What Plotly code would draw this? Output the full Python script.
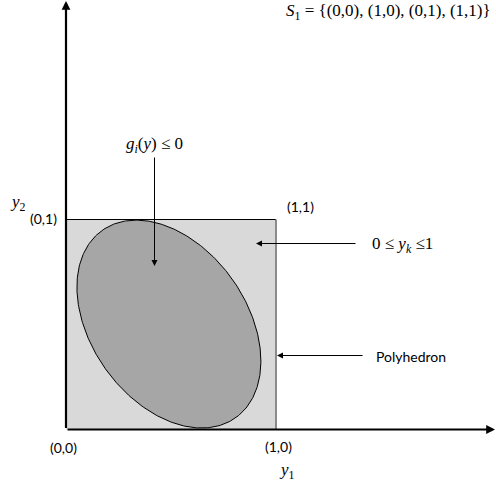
import numpy as np
import plotly.graph_objects as go

# ---- data ----
square_x = [0, 1, 1, 0, 0]
square_y = [0, 0, 1, 1, 0]
corner_labels = ["(0,0)", "(1,0)", "(0,1)", "(1,1)"]
corner_x = [0, 1, 0, 1]
corner_y = [0, 0, 1, 1]
ellipse_center = [0.49, 0.502]
ellipse_sd = [0.438, 0.495]
ellipse_rho = -0.356

W, H = 496, 486
PX = 210.0            # pixels per unit
X0PX, Y0PX = 66.0, 429.5
xr = [-X0PX / PX, (W - X0PX) / PX]
yr = [-(H - Y0PX) / PX, Y0PX / PX]

def dx(px):
    return (px - X0PX) / PX

def dy(py):
    return (Y0PX - py) / PX

t = np.linspace(0, 2 * np.pi, 361)
cx, cy = ellipse_center
sx, sy = ellipse_sd
ex = cx + sx * np.cos(t)
ey = cy + sy * (ellipse_rho * np.cos(t) + np.sqrt(1 - ellipse_rho ** 2) * np.sin(t))

fig = go.Figure()
fig.add_trace(go.Scatter(x=square_x, y=square_y, mode="lines", fill="toself",
                         fillcolor="#d9d9d9", line=dict(width=0), hoverinfo="skip"))
fig.add_trace(go.Scatter(x=ex, y=ey, mode="lines", fill="toself",
                         fillcolor="#a6a6a6", line=dict(color="black", width=1), hoverinfo="skip"))
# square edges
fig.add_trace(go.Scatter(x=[0, 1], y=[1, 1], mode="lines", line=dict(color="black", width=1.2), hoverinfo="skip"))
fig.add_trace(go.Scatter(x=[1, 1], y=[0, 1], mode="lines", line=dict(color="#808080", width=1.8), hoverinfo="skip"))

anns = []
# axes with arrows
anns.append(dict(x=dx(495), y=0, ax=0, ay=0, xref="x", yref="y", axref="x", ayref="y",
                 showarrow=True, arrowhead=2, arrowsize=0.8, arrowwidth=2.2, arrowcolor="black", text=""))
anns.append(dict(x=0, y=dy(1), ax=0, ay=0, xref="x", yref="y", axref="x", ayref="y",
                 showarrow=True, arrowhead=2, arrowsize=0.8, arrowwidth=2.2, arrowcolor="black", text=""))
# pointer arrows
anns.append(dict(x=dx(154.5), y=dy(266), ax=dx(154.5), ay=dy(156), xref="x", yref="y", axref="x", ayref="y",
                 showarrow=True, arrowhead=2, arrowsize=1.2, arrowwidth=1, arrowcolor="black", text=""))
anns.append(dict(x=dx(256), y=dy(243.5), ax=dx(357), ay=dy(243.5), xref="x", yref="y", axref="x", ayref="y",
                 showarrow=True, arrowhead=2, arrowsize=1.2, arrowwidth=1, arrowcolor="black", text=""))
anns.append(dict(x=dx(277), y=dy(355.5), ax=dx(364), ay=dy(355.5), xref="x", yref="y", axref="x", ayref="y",
                 showarrow=True, arrowhead=2, arrowsize=1.2, arrowwidth=1, arrowcolor="black", text=""))

serif = dict(family="Liberation Serif", size=17, color="black")
sans = dict(family="Lato", size=14, color="black")

def txt(x, y, s, font):
    anns.append(dict(x=x, y=y, xref="x", yref="y", text=s, showarrow=False,
                     font=font, xanchor="center", yanchor="middle"))

txt(dx(388), dy(12), "<i>S</i><sub>1</sub> = {(0,0), (1,0), (0,1), (1,1)}", serif)
txt(dx(154), dy(145), "<i>g<sub>i</sub></i>(<i>y</i>) ≤ 0", serif)
txt(dx(18), dy(203), "<i>y</i><sub>2</sub>", serif)
txt(dx(287), dy(471), "<i>y</i><sub>1</sub>", serif)
txt(dx(402), dy(245), "0 ≤ <i>y<sub>k</sub></i> ≤1", serif)
txt(dx(411), dy(356), "Polyhedron", sans)

label_shift = {"(0,0)": (-3, -18), "(1,0)": (212 - 210, -17), "(0,1)": (-23, 1), "(1,1)": (24, 13)}
for lab, xx, yy in zip(corner_labels, corner_x, corner_y):
    sx_, sy_ = label_shift[lab]
    anns.append(dict(x=xx, y=yy, xref="x", yref="y", text=lab, showarrow=False, font=sans,
                     xanchor="center", yanchor="middle", xshift=sx_, yshift=sy_))

fig.update_layout(
    width=W, height=H, margin=dict(l=0, r=0, t=0, b=0),
    paper_bgcolor="white", plot_bgcolor="white", showlegend=False,
    xaxis=dict(range=xr, visible=False, fixedrange=True),
    yaxis=dict(range=yr, visible=False, fixedrange=True),
    annotations=anns,
)
fig.write_html("out.html")
